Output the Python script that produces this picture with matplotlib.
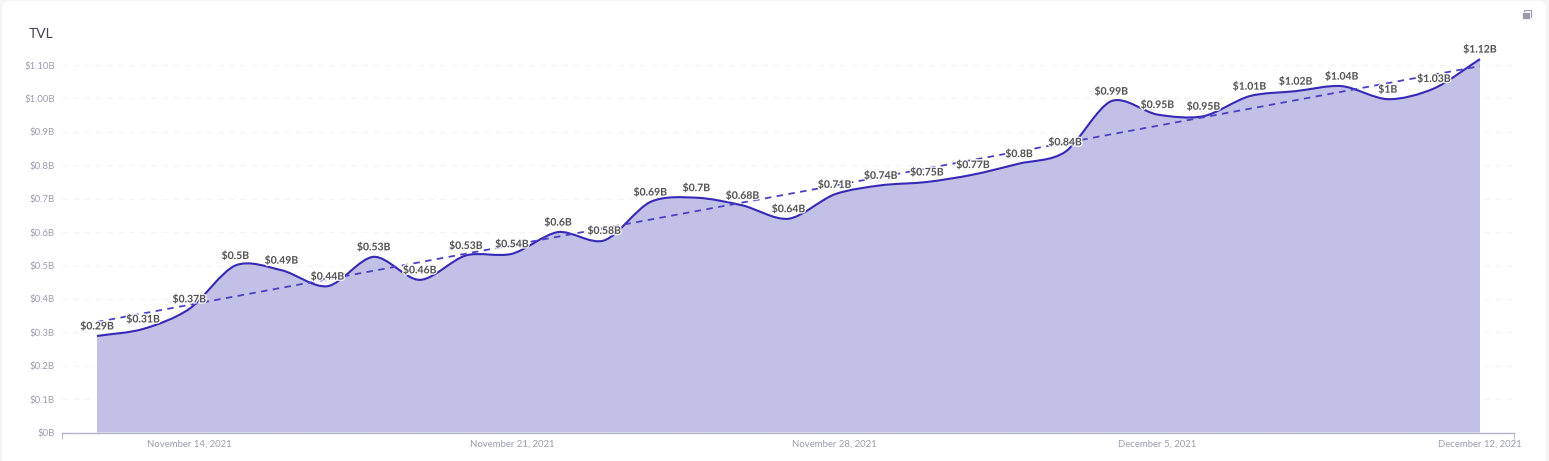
import pandas as pd
import numpy as np
import matplotlib
matplotlib.use('Agg')
import matplotlib.pyplot as plt
import matplotlib.dates as mdates
import matplotlib.patheffects as pe
from matplotlib.path import Path
from matplotlib.patches import PathPatch, FancyBboxPatch, Rectangle
from matplotlib.transforms import IdentityTransform

# TVL values, one per day
dates = pd.date_range('2021-11-12', '2021-12-12', freq='D')
tvl = [0.289, 0.31, 0.37, 0.5, 0.486, 0.438, 0.526, 0.457, 0.53, 0.535, 0.6, 0.575,
       0.69, 0.703, 0.68, 0.64, 0.713, 0.74, 0.75, 0.772, 0.805, 0.84, 0.992, 0.952, 0.947,
       1.007, 1.022, 1.037, 0.998, 1.03, 1.118]
point_labels = ['$0.29B', '$0.31B', '$0.37B', '$0.5B', '$0.49B', '$0.44B', '$0.53B', '$0.46B',
                '$0.53B', '$0.54B', '$0.6B', '$0.58B', '$0.69B', '$0.7B', '$0.68B', '$0.64B',
                '$0.71B', '$0.74B', '$0.75B', '$0.77B', '$0.8B', '$0.84B', '$0.99B', '$0.95B',
                '$0.95B', '$1.01B', '$1.02B', '$1.04B', '$1B', '$1.03B', '$1.12B']

# Trend line end values
trend_dates = [dates[0], dates[-1]]
trend_values = [0.331, 1.097]

y_ticks = [0, 0.1, 0.2, 0.3, 0.4, 0.5, 0.6, 0.7, 0.8, 0.9, 1.0, 1.1]
y_tick_labels = ['$0B', '$0.1B', '$0.2B', '$0.3B', '$0.4B', '$0.5B', '$0.6B', '$0.7B', '$0.8B',
                 '$0.9B', '$1.00B', '$1.10B']
x_tick_dates = pd.to_datetime(['2021-11-14', '2021-11-21', '2021-11-28', '2021-12-05', '2021-12-12'])
x_tick_labels = ['November 14, 2021', 'November 21, 2021', 'November 28, 2021',
                 'December 5, 2021', 'December 12, 2021']

plt.rcParams['font.family'] = ['Lato', 'DejaVu Sans']

W, H = 1549, 461
fig = plt.figure(figsize=(W / 100, H / 100), dpi=100, facecolor='#f4f4f5')

# White card behind the chart
card = FancyBboxPatch((2, -20), 1544, 480, boxstyle='round,pad=0,rounding_size=8',
                      transform=IdentityTransform(), facecolor='white', edgecolor='none', zorder=-5)
fig.add_artist(card)

ax = fig.add_axes([62 / W, (H - 432.5) / H, (1514 - 62) / W, 400.8 / H])
ax.patch.set_alpha(0)

x = mdates.date2num(dates)
y = np.array(tvl)

# Smooth line through the points as cubic bezier segments
slopes = np.gradient(y)
handle = 0.3
verts = [(x[0], y[0])]
codes = [Path.MOVETO]
for i in range(len(x) - 1):
    verts.append((x[i] + handle, y[i] + slopes[i] * handle))
    verts.append((x[i + 1] - handle, y[i + 1] - slopes[i + 1] * handle))
    verts.append((x[i + 1], y[i + 1]))
    codes += [Path.CURVE4, Path.CURVE4, Path.CURVE4]

fill_verts = verts + [(x[-1], 0), (x[0], 0), (x[0], y[0])]
fill_codes = codes + [Path.LINETO, Path.LINETO, Path.CLOSEPOLY]
ax.add_patch(PathPatch(Path(fill_verts, fill_codes), facecolor='#c1c0e6', edgecolor='none', zorder=2))
ax.add_patch(PathPatch(Path(verts, codes), facecolor='none', edgecolor='#3529b6', lw=1.5, zorder=3))

ax.plot(trend_dates, trend_values, color='#4b41c4', lw=1.3, dashes=(3.6, 3), zorder=4)

for d, v, label in zip(dates, tvl, point_labels):
    ax.annotate(label, (d, v), xytext=(0, 6.5), textcoords='offset points', ha='center', va='center',
                fontsize=7.5, fontweight='bold', color='#555555', zorder=5,
                path_effects=[pe.withStroke(linewidth=2, foreground='white', alpha=0.85)])

ax.set_xlim(x[0] - 35 / 46.1, x[-1] + 34 / 46.1)
ax.set_ylim(0, 1.2)

ax.set_yticks(y_ticks)
ax.set_yticklabels(y_tick_labels)
ax.set_xticks(x_tick_dates)
ax.set_xticklabels(x_tick_labels)
ax.tick_params(axis='y', length=0, pad=5, labelsize=6.9, labelcolor='#9c9cb0')
ax.tick_params(axis='x', length=0, pad=5, labelsize=6.9, labelcolor='#9c9cb0')

# Only the two ends of the x axis get a tick mark
ax.set_xticks(ax.get_xlim(), minor=True)
ax.tick_params(axis='x', which='minor', length=4, width=0.8, color='#bcbcca')

ax.grid(axis='y', color='#f5f5f6', lw=1, dashes=(4, 4), zorder=0)
ax.set_axisbelow(True)

for side in ['top', 'right', 'left']:
    ax.spines[side].set_visible(False)
ax.spines['bottom'].set_color('#b4b4cc')
ax.spines['bottom'].set_linewidth(1)
ax.spines['bottom'].set_zorder(6)

fig.text(29 / W, (H - 34.5) / H, 'TVL', fontsize=10, color='#444450', ha='left', va='center')

# Small copy icon top right
fig.add_artist(Rectangle((1524, H - 17), 7, 7, transform=IdentityTransform(), facecolor='none',
                         edgecolor='#9a9aaa', lw=0.8))
fig.add_artist(Rectangle((1522, H - 19), 7.5, 7.5, transform=IdentityTransform(), facecolor='#9a9aaa',
                         edgecolor='white', lw=0.5))

plt.savefig('out.png', dpi=100, facecolor=fig.get_facecolor())
